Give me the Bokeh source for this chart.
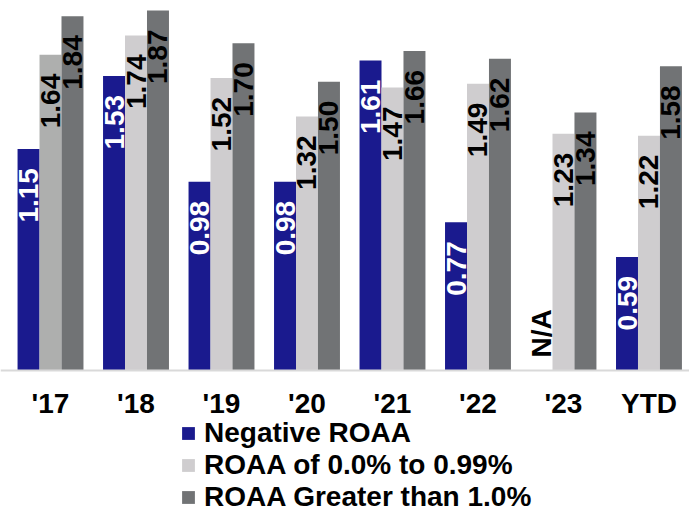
import numpy as np
from bokeh.plotting import figure
from bokeh.models import ColumnDataSource, Range1d, FixedTicker, Legend, LegendItem
from bokeh.transform import dodge
from bokeh.core.properties import value
from bokeh.embed import file_html
from bokeh.resources import INLINE

categories = ["'17", "'18", "'19", "'20", "'21", "'22", "'23", "YTD"]
negative_roaa = [1.15, 1.53, 0.98, 0.98, 1.61, 0.77, None, 0.59]
roaa_0_to_099 = [1.64, 1.74, 1.52, 1.32, 1.47, 1.49, 1.23, 1.22]
roaa_gt_1 = [1.84, 1.87, 1.70, 1.50, 1.66, 1.62, 1.34, 1.58]
series_names = ["Negative ROAA", "ROAA of 0.0% to 0.99%", "ROAA Greater than 1.0%"]

BLUE = "#1A1A8E"
LIGHT = "#CFCDCF"
DARK = "#717375"
mid_colors = ["#AEAFAE"] + [LIGHT] * (len(categories) - 1)

FONT = "Liberation Sans"

xs = list(range(len(categories)))
neg = [np.nan if v is None else v for v in negative_roaa]

src = ColumnDataSource(dict(
    x=xs,
    neg=neg,
    mid=roaa_0_to_099,
    high=roaa_gt_1,
    mid_color=mid_colors,
    mid_lbl=[f"{v:.2f}" for v in roaa_0_to_099],
    high_lbl=[f"{v:.2f}" for v in roaa_gt_1],
))
na_src = ColumnDataSource(dict(
    x=[i for i, v in enumerate(negative_roaa) if v is None],
    y=[0 for v in negative_roaa if v is None],
    t=["N/A" for v in negative_roaa if v is None],
))
val_src = ColumnDataSource(dict(
    x=[i for i, v in enumerate(negative_roaa) if v is not None],
    y=[v for v in negative_roaa if v is not None],
    t=[f"{v:.2f}" for v in negative_roaa if v is not None],
))

p = figure(frame_width=689, frame_height=513, output_backend="svg", toolbar_location=None,
           x_range=Range1d(-0.585, 7.474), y_range=Range1d(-0.743, 1.922),
           y_axis_location=None, min_border=0, min_border_left=0,
           min_border_right=0, min_border_top=0, min_border_bottom=0)
p.outline_line_color = None
p.grid.visible = False
p.background_fill_color = "white"

bw = 0.257
r1 = p.vbar(x=dodge("x", -bw, range=p.x_range), top="neg", width=bw, source=src,
            fill_color=BLUE, line_color=None)
r2 = p.vbar(x=dodge("x", 0, range=p.x_range), top="mid", width=bw, source=src,
            fill_color="mid_color", line_color=None)
r3 = p.vbar(x=dodge("x", bw, range=p.x_range), top="high", width=bw, source=src,
            fill_color=DARK, line_color=None)

common = dict(angle=np.pi / 2, text_font=value(FONT), text_font_size="28px",
              text_font_style="bold", text_baseline="middle")
p.text(x=dodge("x", -bw, range=p.x_range), y="y", text="t", source=val_src,
       text_align="right", y_offset=19, text_color="white", **common)
p.text(x=dodge("x", -bw, range=p.x_range), y="y", text="t", source=na_src,
       text_align="left", y_offset=-13, text_color="black", **common)
p.text(x=dodge("x", 0, range=p.x_range), y="mid", text="mid_lbl", source=src,
       text_align="right", y_offset=19, text_color="black", **common)
p.text(x=dodge("x", bw, range=p.x_range), y="high", text="high_lbl", source=src,
       text_align="right", y_offset=19, text_color="black", **common)

ax = p.xaxis[0]
ax.fixed_location = 0
ax.ticker = FixedTicker(ticks=xs)
ax.major_label_overrides = {i: c for i, c in enumerate(categories)}
ax.major_label_text_font = FONT
ax.major_label_text_font_size = "28px"
ax.major_label_text_font_style = "bold"
ax.major_label_text_color = "black"
ax.major_tick_line_color = None
ax.minor_tick_line_color = None
ax.axis_line_color = "#D9D9D9"
ax.axis_line_width = 2
ax.major_label_standoff = 12

legend = Legend(items=[
    LegendItem(label=series_names[0], renderers=[r1], index=0),
    LegendItem(label=series_names[1], renderers=[r2], index=1),
    LegendItem(label=series_names[2], renderers=[r3], index=0),
], orientation="vertical", location=(180, 0))
legend.label_text_font = FONT
legend.label_text_font_size = "28px"
legend.label_text_font_style = "bold"
legend.label_text_color = "black"
legend.glyph_width = 16
legend.glyph_height = 16
legend.label_height = 30
legend.label_standoff = 8
legend.spacing = 0
legend.padding = 0
legend.margin = 0
legend.border_line_color = None
legend.background_fill_alpha = 0
p.add_layout(legend)

open("out.html", "w").write(file_html(p, INLINE))
